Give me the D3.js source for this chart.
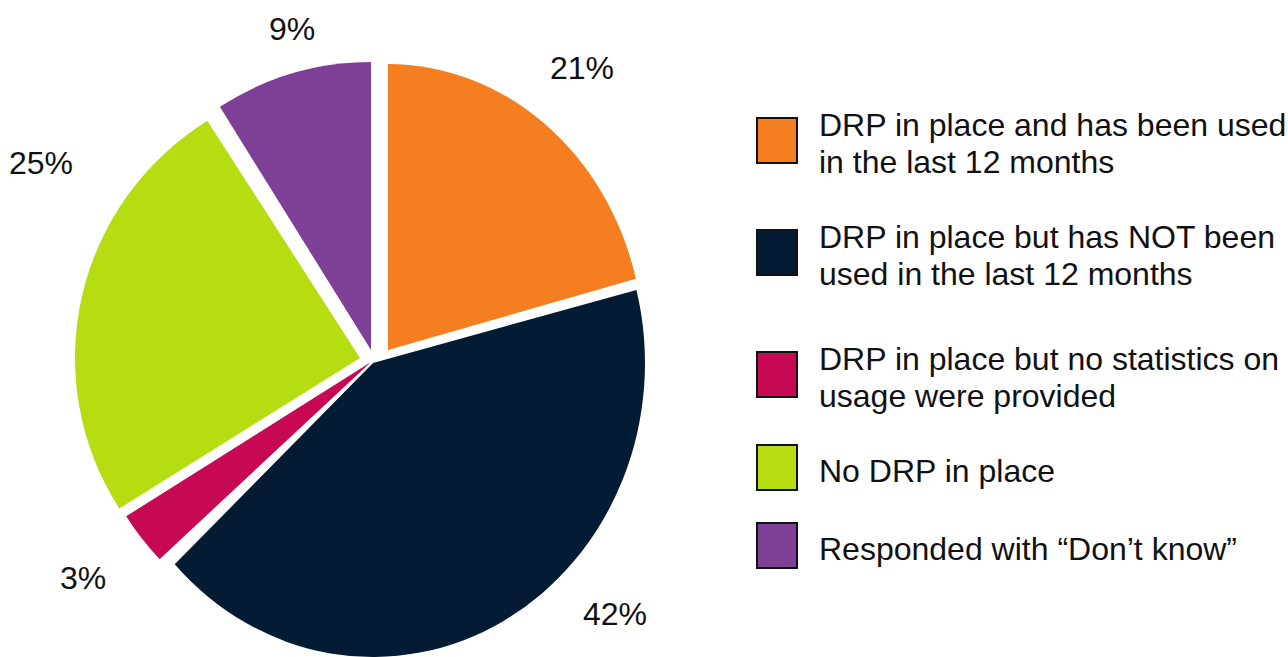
<!DOCTYPE html>
<html>
<head>
<meta charset="utf-8">
<script src="https://cdn.jsdelivr.net/npm/d3@7"></script>
<style>
  html, body { margin: 0; padding: 0; background: #ffffff; }
  svg { display: block; }
  text { font-family: "Liberation Sans", Arial, Helvetica, sans-serif; fill: #111111; }
</style>
</head>
<body>
<script>
// Survey answers on dispute resolution procedures (DRP)
const categories = [
  "DRP in place and has been used\nin the last 12 months",
  "DRP in place but has NOT been\nused in the last 12 months",
  "DRP in place but no statistics on\nusage were provided",
  "No DRP in place",
  "Responded with \u201cDon\u2019t know\u201d"
];
const values = [21, 42, 3, 25, 9];
const valueLabels = values.map(v => v + "%");

// Styling and layout
const colors = ["#f47e20", "#041c33", "#c70852", "#b6dc12", "#7e3f97"];
const W = 1288, H = 657;
const fontSize = 32;

// Each exploded slice has its own centre and radii (x, y)
const sliceFrames = [
  { cx: 388, cy: 350, rx: 256, ry: 286 },
  { cx: 373, cy: 363, rx: 272, ry: 294 },
  { cx: 371, cy: 362, rx: 290, ry: 288 },
  { cx: 360, cy: 358, rx: 285, ry: 281 },
  { cx: 371, cy: 350, rx: 282, ry: 288 }
];
// Centres of the percentage labels
const labelCentres = [[582, 67], [615, 613], [83, 577], [41, 162], [292, 28]];

// Legend layout
const legendX = 757, legendTextX = 819, swatchW = 40, swatchH = 45, lineH = 37;
const swatchTops = [118, 230, 352, 445, 523];

const svg = d3.select("body").append("svg")
  .attr("width", W).attr("height", H);

const pie = d3.pie().sort(null).value(d => d);
const arcs = pie(values);
const arc = d3.arc().innerRadius(0).outerRadius(100);

svg.append("g").attr("class", "slices")
  .selectAll("path")
  .data(arcs)
  .join("path")
  .attr("transform", (d, i) => {
    const f = sliceFrames[i];
    return `translate(${f.cx},${f.cy}) scale(${f.rx / 100},${f.ry / 100})`;
  })
  .attr("d", arc)
  .attr("fill", (d, i) => colors[i]);

svg.append("g").attr("class", "value-labels")
  .selectAll("text")
  .data(arcs)
  .join("text")
  .attr("x", (d, i) => labelCentres[i][0])
  .attr("y", (d, i) => labelCentres[i][1] + 0.36 * fontSize)
  .attr("text-anchor", "middle")
  .attr("font-size", fontSize)
  .text((d, i) => valueLabels[i]);

const legend = svg.append("g").attr("class", "legend")
  .selectAll("g")
  .data(categories)
  .join("g");

legend.append("rect")
  .attr("x", legendX)
  .attr("y", (d, i) => swatchTops[i])
  .attr("width", swatchW)
  .attr("height", swatchH)
  .attr("fill", (d, i) => colors[i])
  .attr("stroke", "#111111")
  .attr("stroke-width", 2);

legend.each(function (d, i) {
  const lines = d.split("\n");
  const centre = swatchTops[i] + swatchH / 2;
  const first = centre - (lines.length - 1) * lineH / 2 + 0.45 * fontSize;
  const t = d3.select(this).append("text")
    .attr("x", legendTextX)
    .attr("y", first)
    .attr("font-size", fontSize);
  lines.forEach((ln, k) => {
    t.append("tspan")
      .attr("x", legendTextX)
      .attr("dy", k === 0 ? 0 : lineH)
      .text(ln);
  });
});
</script>
</body>
</html>
